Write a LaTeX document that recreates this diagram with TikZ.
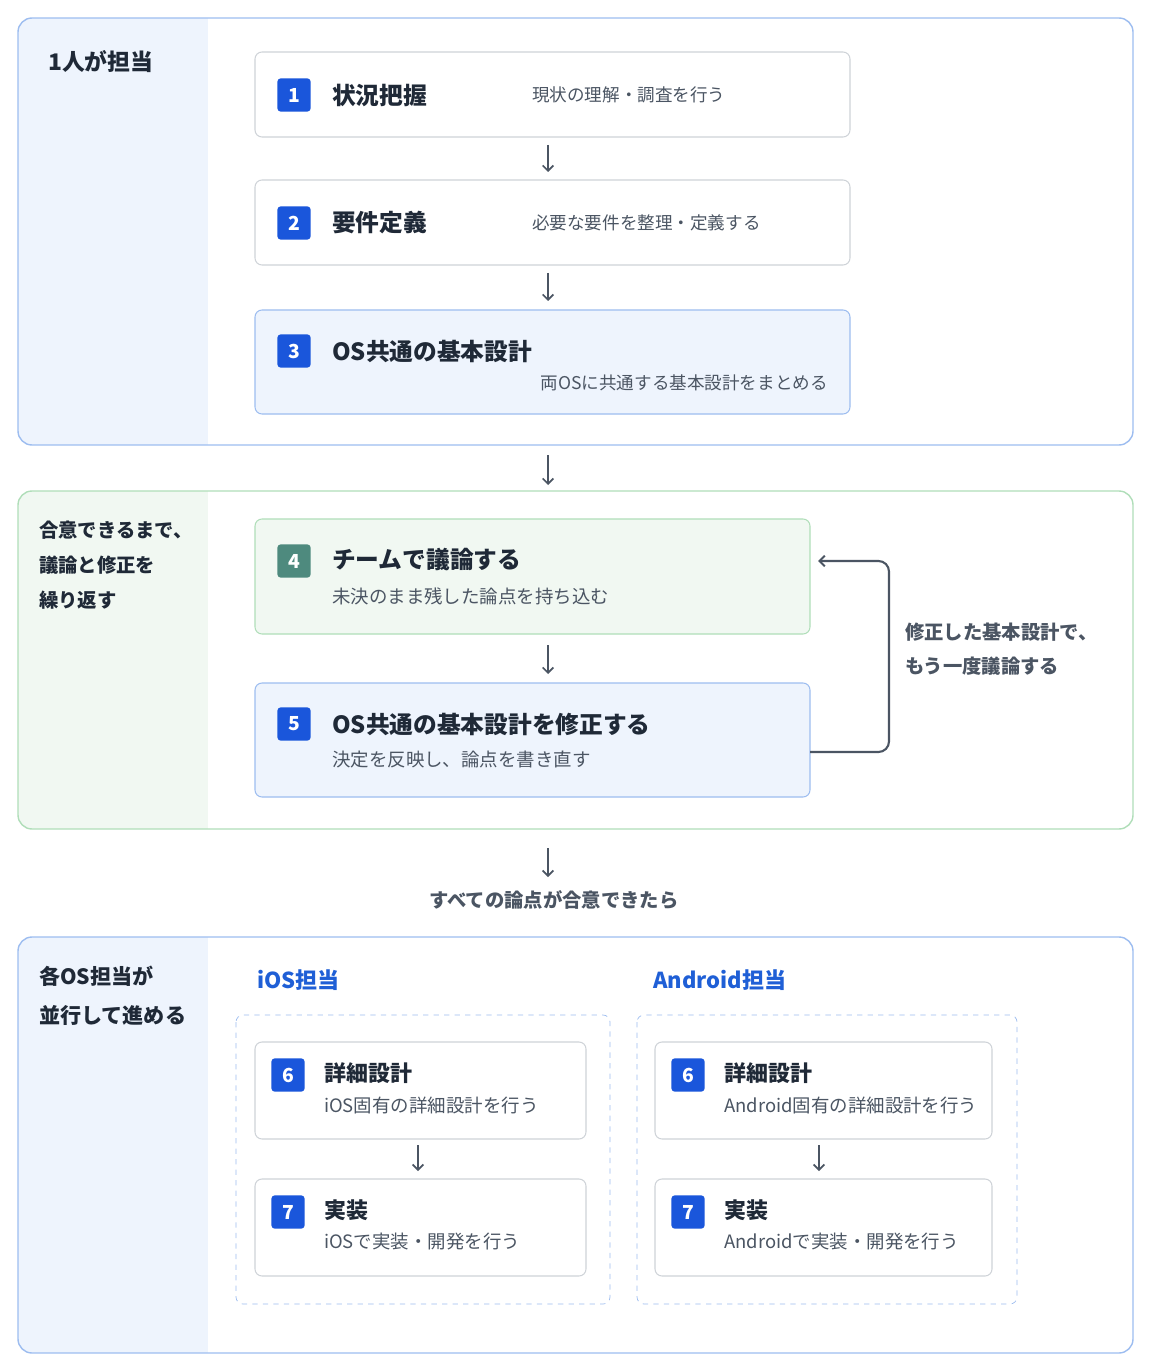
\documentclass[tikz,border=0pt]{standalone}
\usepackage{fontspec}
\setmainfont{Noto Sans CJK JP}
\usetikzlibrary{arrows.meta}
\definecolor{bluebd}{HTML}{9DBDF0}
\definecolor{bluebg}{HTML}{EEF4FD}
\definecolor{greenbd}{HTML}{B0DEB9}
\definecolor{greenbg}{HTML}{F1F8F2}
\definecolor{badgeblue}{HTML}{1A56DB}
\definecolor{badgeteal}{HTML}{4E8A7E}
\definecolor{txt}{HTML}{1F2937}
\definecolor{sub}{HTML}{4B5563}
\definecolor{grey}{HTML}{CFD3D8}
\definecolor{arr}{HTML}{4B5563}
\definecolor{head}{HTML}{1F5FD6}
\tikzset{
  stepbox/.style={draw=grey,fill=white,rounded corners=4pt,line width=0.6pt},
  badge/.style={fill=badgeblue,rounded corners=2pt,minimum size=19pt,inner sep=0pt,text=white,font=\fontsize{11}{13}\selectfont\bfseries},
  ttl/.style={anchor=west,text=txt,font=\fontsize{13.5}{15}\selectfont\bfseries},
  dsc/.style={anchor=west,text=sub,font=\fontsize{10}{12}\selectfont},
  lbl/.style={anchor=west,text=txt,font=\fontsize{11.5}{13}\selectfont\bfseries},
  flow/.style={-{Straight Barb[length=3pt]},arr,line width=1pt},
}
\begin{document}
\begin{tikzpicture}[x=0.02cm,y=-0.02cm]
\useasboundingbox[fill=white] (0,0) rectangle (1149,1368);
% section 1
\begin{scope}
\clip[rounded corners=8pt] (18,18) rectangle (1133,445);
\fill[bluebg] (18,18) rectangle (208,445);
\end{scope}
\draw[bluebd,rounded corners=8pt,line width=0.8pt] (18,18) rectangle (1133,445);
\node[lbl,text=txt,font=\fontsize{13}{15}\selectfont\bfseries] (s1) at (42,62) {1人が担当};
\draw[stepbox] (255,52) rectangle (850,137);
\draw[stepbox] (255,180) rectangle (850,265);
\draw[stepbox,fill=bluebg,draw=bluebd] (255,310) rectangle (850,414);
\node[badge] (b1) at (294,95) {1};
\node[ttl] (t1) at (326,95) {状況把握};
\node[dsc] (d1) at (526,95) {現状の理解・調査を行う};
\node[badge] (b2) at (294,223) {2};
\node[ttl] (t2) at (326,223) {要件定義};
\node[dsc] (d2) at (526,223) {必要な要件を整理・定義する};
\node[badge] (b3) at (294,351) {3};
\node[ttl] (t3) at (326,351) {OS共通の基本設計};
\node[dsc,anchor=east] (d3) at (834,383) {両OSに共通する基本設計をまとめる};
\coordinate (a1) at (548,145); \coordinate (a2) at (548,172);
\coordinate (a3) at (548,273); \coordinate (a4) at (548,301);
\coordinate (a5) at (548,455); \coordinate (a6) at (548,485);
\draw[flow] (a1) -- (a2);
\draw[flow] (a3) -- (a4);
\draw[flow] (a5) -- (a6);
% section 2
\begin{scope}
\clip[rounded corners=8pt] (18,491) rectangle (1133,829);
\fill[greenbg] (18,491) rectangle (208,829);
\end{scope}
\draw[greenbd,rounded corners=8pt,line width=0.8pt] (18,491) rectangle (1133,829);
\node[lbl,font=\fontsize{11}{13}\selectfont\bfseries] (s2a) at (33,530) {合意できるまで、};
\node[lbl,font=\fontsize{11}{13}\selectfont\bfseries] (s2b) at (33,565) {議論と修正を};
\node[lbl,font=\fontsize{11}{13}\selectfont\bfseries] (s2c) at (33,600) {繰り返す};
\draw[stepbox,fill=greenbg,draw=greenbd] (255,519) rectangle (810,634);
\draw[stepbox,fill=bluebg,draw=bluebd] (255,683) rectangle (810,797);
\node[badge,fill=badgeteal] (b4) at (294,561) {4};
\node[ttl] (t4) at (326,560) {チームで議論する};
\node[dsc,font=\fontsize{10.5}{12}\selectfont] (d4) at (326,596) {未決のまま残した論点を持ち込む};
\node[badge] (b5) at (294,724) {5};
\node[ttl] (t5) at (326,724) {OS共通の基本設計を修正する};
\node[dsc,font=\fontsize{10.5}{12}\selectfont] (d5) at (326,760) {決定を反映し、論点を書き直す};
\coordinate (a7) at (548,645); \coordinate (a8) at (548,674);
\draw[flow] (a7) -- (a8);
\coordinate (l1) at (810,752); \coordinate (l2) at (818,561);
\draw[flow,line width=1.2pt,rounded corners=6pt] (l1) -- (889,752) -- (889,561) -- (l2);
\node[lbl,font=\fontsize{11}{13}\selectfont\bfseries,text=sub] (n1) at (899,632) {修正した基本設計で、};
\node[lbl,font=\fontsize{11}{13}\selectfont\bfseries,text=sub] (n2) at (899,666) {もう一度議論する};
\coordinate (a9) at (548,848); \coordinate (a10) at (548,877);
\draw[flow] (a9) -- (a10);
\node[text=sub,font=\fontsize{11}{13}\selectfont\bfseries] (all) at (554,900) {すべての論点が合意できたら};
% section 3
\begin{scope}
\clip[rounded corners=8pt] (18,937) rectangle (1133,1353);
\fill[bluebg] (18,937) rectangle (208,1353);
\end{scope}
\draw[bluebd,rounded corners=8pt,line width=0.8pt] (18,937) rectangle (1133,1353);
\node[lbl,font=\fontsize{12}{14}\selectfont\bfseries] (s3a) at (33,976) {各OS担当が};
\node[lbl,font=\fontsize{12}{14}\selectfont\bfseries] (s3b) at (33,1015) {並行して進める};
\node[lbl,text=head,font=\fontsize{12.5}{14}\selectfont\bfseries] (ios) at (251,980) {iOS担当};
\node[lbl,text=head,font=\fontsize{12.5}{14}\selectfont\bfseries] (and) at (647,980) {Android担当};
\draw[bluebd,dashed,rounded corners=4pt] (236,1015) rectangle (610,1304);
\draw[bluebd,dashed,rounded corners=4pt] (637,1015) rectangle (1017,1304);
\foreach \x/\w/\os in {255/586/iOS,655/992/Android}{
  \draw[stepbox] (\x,1042) rectangle (\w,1139);
  \draw[stepbox] (\x,1179) rectangle (\w,1276);
  \node[badge] at (\x+33,1075) {6};
  \node[ttl,font=\fontsize{12.5}{14}\selectfont\bfseries] at (\x+63,1073) {詳細設計};
  \node[dsc,font=\fontsize{10.5}{12}\selectfont] at (\x+63,1105) {\os 固有の詳細設計を行う};
  \node[badge] at (\x+33,1212) {7};
  \node[ttl,font=\fontsize{12.5}{14}\selectfont\bfseries] at (\x+63,1210) {実装};
  \node[dsc,font=\fontsize{10.5}{12}\selectfont] at (\x+63,1242) {\os で実装・開発を行う};
}
\coordinate (i1) at (418,1145); \coordinate (i2) at (418,1171);
\coordinate (r1) at (819,1145); \coordinate (r2) at (819,1171);
\draw[flow] (i1) -- (i2);
\draw[flow] (r1) -- (r2);
\end{tikzpicture}
\end{document}
